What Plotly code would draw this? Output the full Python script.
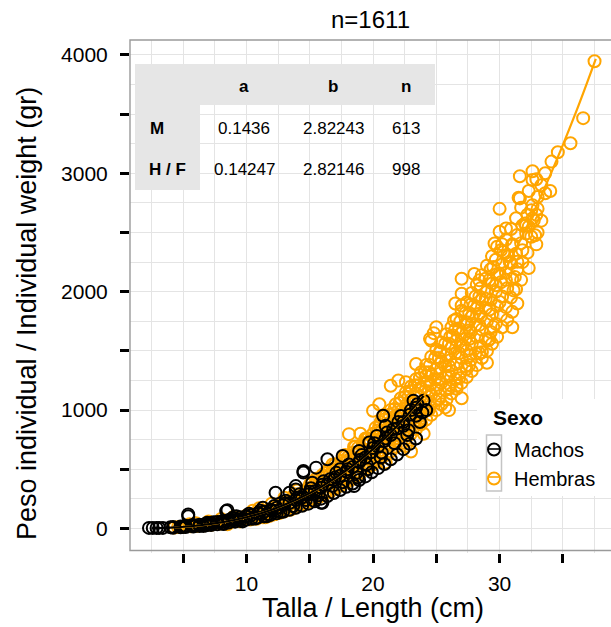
import plotly.graph_objects as go

# ---------------- data ----------------
# individual points that can be read one by one (length cm, weight gr)
hembras_pts = [
    (4.3, 8), (4.6, 12), (5.0, 14), (5.3, 20), (5.6, 18), (5.9, 26), (6.1, 22), (6.4, 30),
    (6.7, 28), (7.0, 38), (7.2, 32), (7.5, 45), (7.8, 40), (8.0, 55), (8.3, 50), (8.6, 65),
    (8.9, 60), (9.1, 78), (9.4, 72), (9.7, 90), (9.9, 85), (10.0, 110), (6.0, 45), (7.0, 60),
    (8.0, 80), (9.0, 100), (5.5, 35), (8.5, 35), (9.5, 60),
    (10.5, 150), (11.0, 170), (11.5, 95), (12.0, 210), (12.5, 130), (13.0, 260), (13.5, 160),
    (14.0, 320), (14.5, 200), (15.0, 370), (12.2, 120), (13.8, 290),
    (15.5, 420), (16.0, 280), (16.5, 500), (17.0, 340), (17.5, 570), (18.0, 400), (18.1, 797),
    (18.5, 690), (19.0, 470), (19.5, 760), (20.0, 540), (16.8, 540), (17.8, 620), (19.2, 720),
    (20.0, 994), (21.0, 557), (21.4, 1206), (22.6, 697), (22.6, 1235), (23.4, 1390),
    (24.2, 1291), (24.5, 1602), (24.6, 1587), (25.3, 1489), (25.7, 1023),
    (26.0, 1291), (26.3, 1630), (26.4, 1757), (26.6, 1206), (27.0, 1983), (27.0, 2110),
    (27.0, 1884), (27.1, 1545), (27.4, 1743), (27.4, 1347), (27.6, 1672), (27.6, 1460),
    (28.0, 1884), (28.4, 2096), (28.4, 1814), (28.6, 1489), (28.9, 1941), (29.1, 1587),
    (29.5, 2209), (29.5, 1701), (29.6, 2407), (29.7, 2054), (30.0, 2153), (30.0, 1913),
    (30.0, 2506), (30.3, 2336), (30.5, 2534), (30.5, 2100), (30.8, 2250), (31.1, 2011),
    (31.2, 2125), (31.4, 2252), (31.5, 2794), (31.6, 2975), (31.6, 2788), (32.0, 2576),
    (32.1, 2492), (32.1, 2562), (32.5, 2464), (32.5, 2689), (32.6, 3017), (32.6, 2943),
    (32.6, 2731), (32.6, 2619), (32.7, 2604), (32.8, 2477), (33.6, 3000), (33.6, 2831),
    (34.1, 3099), (34.6, 3178), (35.6, 3254), (36.6, 3466), (37.5, 3946), (30.2, 2400),
    (30.7, 2300), (31.0, 2400), (31.8, 2350), (33.0, 2700),
    (19.0, 800), (20.5, 1050), (22.0, 1250), (23.0, 650), (24.0, 800), (25.0, 1700),
    (26.0, 1000), (27.0, 1100), (28.0, 2150), (29.0, 1400), (30.0, 2700), (31.0, 1700),
    (26.5, 1900), (24.8, 1650),
]
# dense band, read as columns of weights at a given length
hembras_band = [
    (10.3, [75, 95, 118]), (10.8, [82, 105, 128]), (11.3, [95, 118, 142]),
    (11.8, [105, 130, 160]), (12.2, [120, 150, 180]), (12.6, [130, 165, 200]),
    (13.0, [145, 180, 220]), (13.4, [160, 200, 240]), (13.8, [175, 220, 265]),
    (14.2, [195, 240, 290]), (14.6, [210, 260, 315]), (15.0, [230, 285, 340]),
    (15.4, [250, 310, 370]), (15.8, [270, 335, 400]), (16.2, [290, 360, 430, 470]),
    (16.6, [310, 385, 455]), (17.0, [335, 410, 490, 540]), (17.4, [360, 440, 520]),
    (17.8, [385, 470, 555, 610]), (18.2, [410, 500, 590]), (18.6, [440, 530, 625, 690]),
    (19.0, [470, 565, 660]), (19.4, [500, 600, 700, 760]), (19.8, [530, 635, 740]),
    (20.2, [560, 670, 780, 850]), (20.6, [590, 705, 820, 900]), (21.0, [620, 740, 860, 950]),
    (21.4, [650, 780, 900, 1000]), (21.8, [690, 820, 950, 1050]),
    (22.2, [720, 860, 990, 1100]), (22.6, [760, 900, 1040, 1150]),
    (23.0, [800, 940, 1090, 1200]), (23.4, [840, 990, 1140, 1260]),
    (23.8, [880, 1040, 1190, 1320]), (24.2, [920, 1080, 1240, 1380]),
    (24.6, [960, 1130, 1300, 1450]), (25.0, [1000, 1180, 1350, 1510]),
    (25.4, [1050, 1230, 1410, 1570]), (25.8, [1090, 1280, 1470, 1640]),
    (26.2, [1140, 1330, 1530, 1700]), (26.6, [1180, 1390, 1590, 1770]),
    (27.0, [1230, 1440, 1650, 1840]), (27.4, [1280, 1500, 1720, 1910]),
    (27.8, [1330, 1560, 1790, 1990]), (28.2, [1380, 1620, 1860, 2060]),
    (28.6, [1440, 1680, 1930, 2140]), (29.0, [1500, 1750, 2000, 2220]),
    (29.4, [1560, 1810, 2070, 2300]), (29.8, [1620, 1880, 2150, 2380]),
    (30.2, [1700, 1960, 2230]), (30.6, [1760, 2030, 2310]), (31.0, [1830, 2110, 2390]),
    (31.4, [1900, 2190, 2480]), (31.8, [2250, 2560]), (32.2, [2330, 2650]),
    (33.0, [2500, 2800]),
    (20.4, [610, 720, 830]), (21.2, [680, 800, 920]), (22.0, [760, 880, 1000]),
    (22.8, [830, 970, 1110]), (23.6, [910, 1060, 1210]), (24.4, [1000, 1160, 1320]),
    (25.2, [1090, 1260, 1440]), (26.0, [1180, 1370, 1560]), (26.8, [1270, 1480, 1690]),
    (27.6, [1380, 1600, 1820]), (28.4, [1480, 1720, 1960]), (29.2, [1600, 1850, 2100]),
    (15.1, [260, 320, 380]), (15.6, [280, 350, 410]), (16.0, [300, 370, 450]),
    (16.4, [320, 395, 470]), (16.8, [345, 420, 500]), (17.2, [370, 455, 530]),
    (17.6, [395, 480, 570]), (18.0, [420, 510, 600]), (18.4, [450, 545, 640]),
    (18.8, [480, 580, 680]), (19.2, [510, 615, 720]), (19.6, [545, 650, 760]),
    (20.0, [575, 690, 800]), (20.1, [640, 750]), (20.5, [660, 780, 870]),
    (20.9, [690, 810, 920]), (21.3, [720, 850, 960]), (21.7, [760, 890, 1010]),
    (22.1, [790, 930, 1060]), (22.5, [830, 970, 1110]), (22.9, [870, 1020, 1160]),
    (23.3, [910, 1060, 1210]), (23.7, [950, 1110, 1270]), (24.1, [990, 1160, 1320]),
    (24.5, [1030, 1210, 1380]), (24.9, [1080, 1260, 1440]), (25.3, [1120, 1310, 1500]),
    (25.7, [1170, 1370, 1560]), (26.1, [1210, 1420, 1620]), (26.5, [1260, 1480, 1680]),
    (26.9, [1310, 1540, 1750]), (27.3, [1370, 1600, 1820]), (27.7, [1420, 1660, 1890]),
    (28.1, [1480, 1720, 1960]), (28.5, [1540, 1790, 2030]), (28.9, [1600, 1860, 2110]),
    (29.3, [1660, 1930, 2190]), (29.7, [1730, 2000, 2270]), (30.1, [1800, 2080, 2350]),
    (30.5, [1870, 2160, 2440]), (30.9, [1950, 2240, 2530]), (31.3, [2020, 2320, 2620]),
    (31.7, [2100, 2410, 2710]), (32.3, [2200, 2550, 2850]), (32.9, [2400, 2650, 2950]),
    (33.3, [2600, 2900]), (34.0, [2850]),
]

machos_pts = [
    (2.3, 5), (2.6, 5), (2.9, 5), (3.1, 5), (3.4, 5), (5.4, 104), (5.4, 119), (6.9, 48),
    (8.4, 147), (8.5, 155), (9.2, 104), (9.4, 76), (11.3, 175), (12.3, 147), (11.6, 104),
    (13.4, 302), (14.5, 486), (14.5, 472), (13.9, 358), (13.9, 330), (16.0, 218), (15.9, 218),
    (15.2, 387), (16.4, 585), (15.5, 514), (17.6, 613), (17.4, 500), (18.5, 358), (18.8, 430),
    (18.9, 655), (19.6, 500), (20.3, 782), (21.0, 867), (21.6, 839), (20.8, 952), (22.4, 867),
    (23.4, 952), (23.9, 980), (19.7, 726), (16.6, 415), (12.3, 302),
    (4.0, 10), (5.0, 15), (6.0, 25), (7.0, 35), (8.0, 55), (9.0, 70), (10.0, 100),
    (11.0, 130), (12.0, 150), (13.0, 210), (14.0, 260), (15.0, 310), (16.0, 370), (17.0, 430),
    (18.0, 500), (19.0, 580), (20.0, 680), (21.0, 760), (22.0, 900), (23.0, 1000),
    (23.5, 1050), (24.0, 1080), (22.8, 830), (20.7, 640),
    (5.1, 18), (5.7, 28), (6.6, 22), (7.4, 52), (8.2, 38), (8.9, 90), (9.7, 60), (10.2, 125),
    (10.7, 85), (11.1, 150), (11.7, 120), (12.2, 190), (12.7, 140), (13.1, 235), (13.7, 190),
    (14.2, 290), (14.7, 240), (15.1, 340), (15.7, 280), (16.1, 400), (16.8, 360), (17.1, 470),
    (17.6, 390), (18.1, 540), (18.7, 470), (19.1, 620), (19.5, 540), (20.1, 720), (20.6, 600),
    (21.1, 810), (21.7, 720), (22.2, 950), (22.7, 790), (23.2, 1080), (23.7, 900), (24.2, 1000),
]
machos_band = [
    (4.2, [6, 12]), (4.8, [10, 16]), (5.2, [12, 20]), (5.8, [16, 26]), (6.3, [20, 32]),
    (6.8, [26, 40]), (7.2, [30, 46]), (7.7, [36, 55]), (8.1, [42, 62]), (8.6, [50, 72]),
    (9.1, [58, 84]), (9.5, [66, 95]), (10.0, [75, 105]), (10.4, [82, 115]),
    (10.9, [92, 128]), (11.4, [102, 142]), (11.9, [115, 158]), (12.4, [128, 175]),
    (12.9, [142, 195]), (13.4, [158, 215]), (13.9, [175, 240]), (14.4, [192, 262]),
    (14.9, [210, 288]), (15.4, [230, 315]), (15.9, [252, 345]), (16.4, [275, 375]),
    (16.9, [300, 410]), (17.4, [325, 445]), (17.9, [352, 480]), (18.4, [380, 520]),
    (18.9, [410, 560]), (19.4, [440, 600]), (19.9, [475, 645]), (20.4, [510, 690]),
    (20.9, [545, 740]), (21.4, [585, 790]), (21.9, [625, 845]), (22.4, [670, 900]),
    (22.9, [715, 960]), (23.4, [760, 1020]),
]

# fitted curves
machos_curve_len = [2.5, 4, 6, 8, 10, 12, 14, 16, 18, 20, 22, 24]
machos_curve_wt = [2, 7, 23, 51, 95, 159, 246, 358, 499, 671, 877, 1120]
hembras_curve_len = [4.3, 6, 8, 10, 12, 14, 16, 18, 20, 22, 24, 26, 28, 30, 32, 34, 36, 37.6]
hembras_curve_wt = [9, 22, 50, 95, 158, 244, 356, 496, 668, 874, 1117, 1401, 1726, 2098,
                    2516, 2985, 3508, 3967]

# table
table_cols = ["a", "b", "n"]
table_rows = ["M", "H / F"]
table_vals = [["0.1436", "2.82243", "613"], ["0.14247", "2.82146", "998"]]

x_tickvals = [5, 10, 15, 20, 25, 30, 35]
x_ticktext = ["", "10", "", "20", "", "30", ""]
x_minor = [2.5, 7.5, 12.5, 17.5, 22.5, 27.5, 32.5, 37.5]
y_tickvals = [0, 500, 1000, 1500, 2000, 2500, 3000, 3500, 4000]
y_ticktext = ["0", "", "1000", "", "2000", "", "3000", "", "4000"]
y_minor = [250, 750, 1250, 1750, 2250, 2750, 3250, 3750]

title_text = "n=1611"
x_title = "Talla / Length (cm)"
y_title = "Peso individual / Individual weight (gr)"
legend_title = "Sexo"


def flatten(pts, band):
    xs = [p[0] for p in pts]
    ys = [p[1] for p in pts]
    for length, weights in band:
        for w in weights:
            xs.append(length)
            ys.append(w)
    return xs, ys


hx, hy = flatten(hembras_pts, hembras_band)
mx, my = flatten(machos_pts, machos_band)

# ---------------- figure ----------------
W, H = 611, 627
L_M, R_M, T_M, B_M = 130, 0, 40, 74
PW, PH = W - L_M - R_M, H - T_M - B_M


def px_x(p):
    return (p - L_M) / PW


def px_y(p):
    return (H - B_M - p) / PH


ORANGE = "#FFA500"
FONT = "Liberation Sans, Arial, sans-serif"
MSIZE, MLW = 12, 2

fig = go.Figure()
fig.add_trace(go.Scatter(
    x=hx, y=hy, mode="markers",
    marker=dict(symbol="circle-open", size=MSIZE, color=ORANGE, line=dict(width=MLW)),
    name="Hembras", showlegend=False))
fig.add_trace(go.Scatter(
    x=mx, y=my, mode="markers",
    marker=dict(symbol="circle-open", size=MSIZE, color="black", line=dict(width=MLW)),
    name="Machos", showlegend=False))
fig.add_trace(go.Scatter(x=hembras_curve_len, y=hembras_curve_wt, mode="lines",
                         line=dict(color=ORANGE, width=2.2, shape="spline"), showlegend=False))
fig.add_trace(go.Scatter(x=machos_curve_len, y=machos_curve_wt, mode="lines",
                         line=dict(color="black", width=2.2, shape="spline"), showlegend=False))
# legend entries
fig.add_trace(go.Scatter(x=[None], y=[None], mode="markers", name="Machos", legendrank=1,
                         marker=dict(symbol="circle-open", size=MSIZE, color="black",
                                     line=dict(width=MLW))))
fig.add_trace(go.Scatter(x=[None], y=[None], mode="markers", name="Hembras", legendrank=2,
                         marker=dict(symbol="circle-open", size=MSIZE, color=ORANGE,
                                     line=dict(width=MLW))))

grid = "#e4e4e4"
fig.update_xaxes(range=[0.8, 38.8], tickmode="array", tickvals=x_tickvals, ticktext=x_ticktext,
                 ticks="outside", ticklen=9, tickwidth=2.5, tickcolor="black",
                 showgrid=True, gridcolor=grid, gridwidth=1, zeroline=False, showline=False,
                 tickfont=dict(family=FONT, size=21, color="black"), ticklabelstandoff=3,
                 minor=dict(tickvals=x_minor, showgrid=True, gridcolor=grid, gridwidth=1, ticks=""))
fig.update_yaxes(range=[-207, 4126], tickmode="array", tickvals=y_tickvals, ticktext=y_ticktext,
                 ticks="outside", ticklen=9, tickwidth=2.5, tickcolor="black",
                 showgrid=True, gridcolor=grid, gridwidth=1, zeroline=False, showline=False,
                 tickfont=dict(family=FONT, size=21, color="black"), ticklabelstandoff=8,
                 minor=dict(tickvals=y_minor, showgrid=True, gridcolor=grid, gridwidth=1, ticks=""))

shapes = []
# panel border
shapes.append(dict(type="rect", xref="paper", yref="paper", x0=0, x1=1.02,
                   y0=px_y(550.5), y1=1, line=dict(color="#9a9a9a", width=1.4), layer="above"))
# table backgrounds
TG = "#e6e6e6"
shapes.append(dict(type="rect", xref="paper", yref="paper", x0=px_x(135), x1=px_x(435),
                   y0=px_y(105), y1=px_y(64), fillcolor=TG, line=dict(width=0), layer="above"))
shapes.append(dict(type="rect", xref="paper", yref="paper", x0=px_x(135), x1=px_x(200),
                   y0=px_y(190), y1=px_y(64), fillcolor=TG, line=dict(width=0), layer="above"))
# legend background and key box
shapes.append(dict(type="rect", xref="paper", yref="paper", x0=px_x(477), x1=1.02,
                   y0=px_y(496), y1=px_y(399), fillcolor="white", line=dict(width=0),
                   layer="above"))
KX = 494
shapes.append(dict(type="rect", xref="paper", yref="paper", x0=px_x(KX - 7.5), x1=px_x(KX + 7.5),
                   y0=px_y(491), y1=px_y(435), fillcolor="white",
                   line=dict(color="#c4c4c4", width=1.5), layer="above"))
for yy, col in [(449, "black"), (477, ORANGE)]:
    shapes.append(dict(type="line", xref="paper", yref="paper", x0=px_x(KX - 5.5),
                       x1=px_x(KX + 5.5), y0=px_y(yy), y1=px_y(yy),
                       line=dict(color=col, width=1.6), layer="above"))

annotations = []
TF = 17
col_x = [244, 333, 406]
for cx, t in zip(col_x, table_cols):
    annotations.append(dict(x=px_x(cx), y=px_y(86), xref="paper", yref="paper", text=f"<b>{t}</b>",
                            showarrow=False, xanchor="center", yanchor="middle",
                            font=dict(family=FONT, size=TF, color="black")))
row_y = [128, 169]
row_x = [148, 147]
for ry, rx, t, vals in zip(row_y, row_x, table_rows, table_vals):
    annotations.append(dict(x=px_x(rx), y=px_y(ry), xref="paper", yref="paper", text=f"<b>{t}</b>",
                            showarrow=False, xanchor="left", yanchor="middle",
                            font=dict(family=FONT, size=TF, color="black")))
    for cx, v in zip(col_x, vals):
        annotations.append(dict(x=px_x(cx), y=px_y(ry), xref="paper", yref="paper", text=v,
                                showarrow=False, xanchor="center", yanchor="middle",
                                font=dict(family=FONT, size=TF, color="black")))
# legend title
annotations.append(dict(x=px_x(491), y=px_y(417), xref="paper", yref="paper",
                        text=f"<b>{legend_title}</b>", showarrow=False, xanchor="left",
                        yanchor="middle", font=dict(family=FONT, size=21, color="black")))
# axis titles
annotations.append(dict(x=px_x(373), y=px_y(608), xref="paper", yref="paper", text=x_title,
                        showarrow=False, xanchor="center", yanchor="middle",
                        font=dict(family=FONT, size=27, color="black")))
annotations.append(dict(x=px_x(27), y=px_y(314), xref="paper", yref="paper", text=y_title,
                        textangle=-90, showarrow=False, xanchor="center", yanchor="middle",
                        font=dict(family=FONT, size=27, color="black")))

fig.update_layout(
    width=W, height=H,
    margin=dict(l=L_M, r=R_M, t=T_M, b=B_M, autoexpand=False),
    paper_bgcolor="white", plot_bgcolor="white",
    title=dict(text=title_text, x=0.5, xref="paper", xanchor="center",
               y=1 - 20 / H, yref="container", yanchor="middle",
               font=dict(family=FONT, size=24, color="black")),
    shapes=shapes, annotations=annotations,
    showlegend=True,
    legend=dict(x=px_x(KX - 20), y=px_y(430), xanchor="left", yanchor="top",
                bgcolor="rgba(0,0,0,0)", borderwidth=0,
                font=dict(family=FONT, size=20, color="black"),
                itemclick=False, tracegroupgap=0),
)

fig.write_html("out.html")
